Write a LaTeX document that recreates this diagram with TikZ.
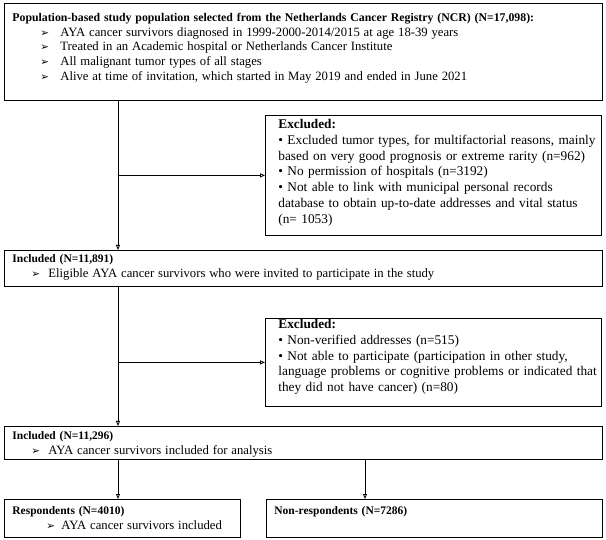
\documentclass[tikz,border=0pt]{standalone}
\usepackage{fontspec}
\setmainfont{Liberation Serif}
\newfontfamily\symfont{DejaVu Sans}
\usetikzlibrary{arrows.meta}

% arrow-head bullet: indent, gap, text
\newcommand{\pointer}[3]{\hspace*{#1}\makebox[#2][l]{{\symfont\fontsize{10.5}{10}\selectfont ➢}}{\fontsize{12.7}{14.75}\selectfont #3}}
\newcommand{\exclsetup}{\leftskip=13pt\rightskip=-14pt plus 2em\relax}

\begin{document}
\begin{tikzpicture}[x=1pt, y=1pt,
  flowbox/.style={draw=black, line width=0.8pt, anchor=north west, align=left, inner xsep=8pt, inner ysep=0pt, font=\fontsize{11.5}{14.75}\selectfont},
  exclbox/.style={flowbox, inner xsep=0pt, text width=336pt, font=\fontsize{13.3}{15.7}\selectfont},
  arrow/.style={line width=0.8pt, -{Triangle[open, length=5pt, width=4pt]}}
]
\useasboundingbox (0,0) rectangle (606,-540);

\node (pop) [flowbox, text width=582pt, text height=18pt, text depth=79pt] at (4,-3)
  {{\fontsize{11.8}{14.75}\selectfont\bfseries Population-based study population selected from the Netherlands Cancer Registry (NCR) (N=17,098):}\\
   \pointer{28pt}{20pt}{AYA cancer survivors diagnosed in 1999-2000-2014/2015 at age 18-39 years}\\
   \pointer{28pt}{20pt}{Treated in an Academic hospital or Netherlands Cancer Institute}\\
   \pointer{28pt}{20pt}{All malignant tumor types of all stages}\\
   \pointer{28pt}{20pt}{Alive at time of invitation, which started in May 2019 and ended in June 2021}\par};

\node (excl1) [exclbox, text height=13.5pt, text depth=106.5pt] at (265,-115)
  {\exclsetup \textbf{Excluded:}\\
   • Excluded tumor types, for multifactorial reasons, mainly\\
   based on very good prognosis or extreme rarity (n=962)\\
   • No permission of hospitals (n=3192)\\
   • Not able to link with municipal personal records\\
   database to obtain up-to-date addresses and vital status\\
   (n= 1053)\par};

\node (inc1) [flowbox, text width=582pt, text height=12.5pt, text depth=23.5pt] at (4,-250)
  {\textbf{Included (N=11,891)}\\
   \pointer{19pt}{17pt}{Eligible AYA cancer survivors who were invited to participate in the study}\par};

\node (excl2) [exclbox, text height=10.5pt, text depth=77.5pt] at (265,-318)
  {\exclsetup \textbf{Excluded:}\\
   • Non-verified addresses (n=515)\\
   • Not able to participate (participation in other study,\\
   language problems or cognitive problems or indicated that\\
   they did not have cancer) (n=80)\par};

\node (inc2) [flowbox, text width=582pt, text height=13.5pt, text depth=20pt] at (4,-426)
  {\textbf{Included (N=11,296)}\\
   \pointer{19pt}{17pt}{AYA cancer survivors included for analysis}\par};

\node (resp) [flowbox, text width=220pt, text height=15.5pt, text depth=22.5pt] at (4,-499)
  {\textbf{Respondents (N=4010)}\\
   \pointer{34pt}{15pt}{AYA cancer survivors included}\par};

\node (nonresp) [flowbox, text width=320pt, text height=15.5pt, text depth=22.5pt] at (266,-499)
  {\textbf{Non-respondents (N=7286)}};

\coordinate (trunk) at (118,0);
\coordinate (split) at (365,0);

\draw [arrow] (pop.south -| trunk) -- (inc1.north -| trunk);
\draw [arrow] (excl1.west -| trunk) -- (excl1.west);
\draw [arrow] (inc1.south -| trunk) -- (inc2.north -| trunk);
\draw [arrow] (excl2.west -| trunk) -- (excl2.west);
\draw [arrow] (inc2.south -| trunk) -- (resp.north -| trunk);
\draw [arrow] (inc2.south -| split) -- (nonresp.north -| split);

\end{tikzpicture}
\end{document}
